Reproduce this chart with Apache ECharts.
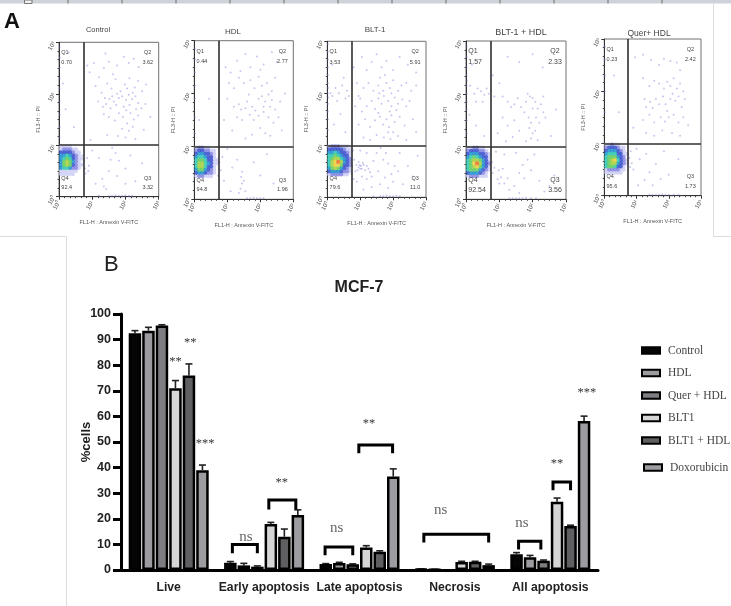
<!DOCTYPE html>
<html><head><meta charset="utf-8">
<style>html,body{margin:0;padding:0;background:#fff}#c{width:731px;height:606px;filter:blur(0.45px)}</style>
<script src="https://cdn.jsdelivr.net/npm/echarts@6/dist/echarts.min.js"></script>
</head><body><div id="c"></div>
<script>
// ---------- Panel B data ----------
const categories = ['Live','Early apoptosis','Late apoptosis','Necrosis','All apoptosis'];
const groupNames = ['Control','HDL','Quer + HDL','BLT1','BLT1 + HDL','Doxorubicin'];
const groupColors = ['#050505','#9c9ca0','#7e7e82','#d6d6d6','#5f5f62','#9d9da1'];
const controlValues = [92.5,2.8,2.3,0.3,6.2];
const controlErrors = [1,0.5,0.2,0.1,0.6];
const hdlValues = [93.5,1.8,2.7,0.2,5];
const hdlErrors = [1.3,0.8,0.3,0.1,0.7];
const querValues = [95.5,1.3,2.2,null,3.6];
const querErrors = [0.3,0.3,0.2,null,0.3];
const bltValues = [71,18,8.8,3.1,26.7];
const bltErrors = [3,0.6,0.7,0.3,1.4];
const bltHdlValues = [76,13,7.1,3.2,17.2];
const bltHdlErrors = [4.5,3,0.4,0.2,0.3];
const doxValues = [39,21.5,36.5,1.9,58.2];
const doxErrors = [2,2,3,0.4,1.9];
const yTicks = {min:0,max:100,interval:10};
// [category, from bar, to bar, top value, bottom value]
const brackets = [
 [1,0.15,2,10,6.5],[1,2.85,4.85,27.3,23.6],
 [2,-0.05,2,9,5.8],[2,2.45,4.95,48.8,45.6],
 [3,0.2,5,14,10.7],
 [4,0.15,1.8,11.2,8],[4,2.7,4,34.4,31.2]];
// [category, bar position, value, text]
const marks = [
 [0,3,82,'**'],[0,4.1,89.4,'**'],[0,5.2,50,'***'],
 [1,1.15,13,'ns'],[1,3.8,35,'**'],
 [2,0.8,16.4,'ns'],[2,3.2,58,'**'],
 [3,1.44,23.4,'ns'],
 [4,0.4,18.3,'ns'],[4,3,42.3,'**'],[4,5.2,70,'***']];

// ---------- Panel A data ----------
const panelTitles = ['Control','HDL','BLT-1','BLT-1 + HDL','Quer+ HDL'];
const q1Values = ['0.70','0.44','3.53','1.57','0.23'];
const q2Values = ['3.62','2.77','5.91','2.33','2.42'];
const q3Values = ['3.32','1.96','11.0','3.56','1.73'];
const q4Values = ['92.4','94.8','79.6','92.54','95.6'];
const gateX = [0.73,0.74,0.73,0.74,0.735];
const gateY = [1,1,1,1,1];
const decadeLabels = ['10\u2070','10\u00b9','10\u00b2','10\u00b3'];
const coreX = [0.06,0.15,0.24,0.33,0.42,0.51,0.60,0.69];
const coreY = [0.98,0.92,0.86,0.80,0.74,0.68,0.62,0.56,0.50,0.44];
const densityColors = [null,'#cfcff4','#8686e2','#3a50cc','#2090d0','#30c8b4','#60cc60','#a4d040','#e8d040','#f07030'];
const coreControl = [[1,1,1,1,0,0,0,0],[1,2,2,2,1,1,0,0],[3,3,3,3,2,1,1,0],[4,4,5,4,3,2,1,0],[4,5,6,5,3,2,1,1],[4,6,7,6,4,2,1,0],[4,6,7,6,3,2,1,1],[4,5,5,4,2,2,1,0],[1,1,1,1,1,1,0,0],[1,1,1,1,1,0,0,0]];
const coreHdl = [[1,2,2,1,1,0,0,0],[2,3,3,2,2,1,1,0],[3,4,4,3,3,2,1,0],[4,5,5,4,3,3,1,0],[5,6,6,5,3,3,1,1],[5,7,7,5,4,3,1,1],[5,7,7,5,3,3,1,0],[4,6,6,4,3,2,1,0],[3,4,4,3,2,2,1,0],[1,2,2,1,1,1,0,0]];
const coreBlt = [[1,2,2,2,1,1,1,0],[3,3,3,3,3,2,1,1],[4,4,5,4,3,3,2,1],[5,5,6,5,4,3,3,1],[5,6,7,7,5,4,3,2],[5,7,8,9,7,4,3,2],[5,7,8,8,6,3,3,2],[4,6,7,6,4,3,2,1],[3,4,4,4,3,2,2,1],[1,2,2,2,2,1,1,0]];
const coreBltHdl = [[1,1,2,2,1,1,0,0],[2,3,3,3,2,2,1,0],[3,4,4,4,3,3,2,1],[4,5,6,5,4,3,3,1],[5,6,7,7,6,4,3,1],[5,6,8,9,7,4,3,2],[5,6,7,8,6,4,3,1],[5,6,6,6,4,3,2,1],[3,4,4,4,3,2,1,0],[1,2,2,2,1,1,1,0]];
const coreQuer = [[1,1,2,1,1,0,0,0],[2,3,3,3,2,1,1,0],[3,4,4,4,3,2,1,0],[4,5,5,5,3,3,1,1],[5,6,6,6,4,3,2,0],[5,6,7,8,5,3,2,1],[5,6,7,7,4,3,2,1],[5,6,6,5,3,3,1,0],[1,2,2,2,2,1,1,0],[1,1,1,1,1,1,0,0]];
const controlEvents = [[0.85,2.55],[0.92,2.42],[1.05,2.6],[1.2,2.32],[1.35,2.5],[1.5,2.62],[1.62,2.38],[1.75,2.55],[1.95,2.72],[2.1,2.6],[2.25,2.68],[2.4,2.52],[1.4,2.78],[1.1,2.15],[1.28,2.02],[1.45,2.2],[1.58,2.1],[1.7,2.28],[1.85,2.05],[1.98,2.18],[2.12,2.3],[2.28,2.12],[2.38,2.25],[2.5,2.05],[2.62,2.18],[1.18,1.85],[1.32,1.75],[1.42,1.8],[1.55,1.72],[1.65,1.85],[1.72,1.78],[1.8,1.92],[1.9,1.95],[2.02,1.88],[2.1,1.98],[2.2,1.9],[2.3,1.95],[2.38,1.82],[2.48,1.72],[2.6,1.8],[1.35,1.6],[1.5,1.55],[1.68,1.48],[1.8,1.62],[1.92,1.55],[2.02,1.68],[2.15,1.62],[2.25,1.5],[2.38,1.58],[2.05,1.42],[1.9,1.32],[2.1,1.28],[2.22,1.36],[2.0,1.15],[1.78,1.18],[2.3,1.12],[1.45,1.2],[0.95,1.1],[2.55,1.3],[2.75,1.55],[1.6,1.95],[1.75,2.0],[2.05,2.1],[2.22,2.02],[1.52,1.9],[1.38,1.92],[2.32,1.7],[1.95,1.75],[2.12,1.78],
 [0.3,2.8],[0.12,2.2],[0.2,1.7],[0.45,1.35],[0.02,2.9],[0.02,2.7],[0.02,2.5],[0.02,2.3],[0.02,2.1],[0.02,1.85],[0.02,1.6],[0.02,1.35],[0.02,1.15],
 [0.85,0.75],[0.9,0.6],[0.8,0.45],[0.78,0.55],[0.88,0.5],[1.0,0.9],[1.2,0.75],[1.3,0.35],[1.35,0.2],[1.42,0.15],[1.5,0.5],[1.6,0.95],[1.7,0.85],[1.8,0.7],[2,0.55],[2.15,0.8],[2.3,0.3],[2.5,0.65],[2.0,0.25],[1.1,0.25],[1.55,0.72],[1.75,0.4],[0.72,0.62],[0.7,0.8],[0.75,0.7],
 [1.2,0.02],[1.5,0.02],[1.6,0.02],[1.7,0.03],[1.8,0.02],[1.9,0.02],[2,0.03],[2.1,0.02],[2.2,0.02]];
const hdlEvents = [[0.95,2.5],[1.1,2.4],[1.3,2.62],[1.55,2.75],[1.7,2.5],[1.9,2.7],[2.1,2.55],[2.35,2.78],[2.5,2.6],[1.05,2.2],[1.2,2.1],[1.35,2.3],[1.5,2.2],[1.7,2.25],[1.82,2.1],[1.95,2.32],[2.05,2.15],[2.2,2.2],[2.35,2.05],[2.45,2.3],[1.0,1.9],[1.2,1.75],[1.35,1.8],[1.42,1.7],[1.55,1.72],[1.6,1.85],[1.75,1.75],[1.85,1.68],[1.95,1.9],[2.05,1.95],[2.15,1.85],[2.25,1.98],[2.35,1.88],[2.3,1.75],[2.45,1.7],[2.6,1.85],[1.3,1.55],[1.45,1.5],[1.68,1.6],[1.8,1.5],[1.95,1.58],[2.1,1.65],[2.25,1.55],[2.4,1.45],[2.55,1.55],[2.0,1.35],[2.15,1.25],[1.75,1.22],[1.55,1.15],[2.3,1.2],[1.15,1.3],[0.9,1.5],[2.65,1.3],[2.75,2.0],[1.4,2.42],[2.0,2.45],[2.1,1.75],[1.65,1.98],
 [0.3,2.6],[0.45,1.9],[0.15,1.5],[0.02,2.85],[0.02,2.65],[0.02,2.4],[0.02,2.15],[0.02,1.9],[0.02,1.55],[0.02,1.25],
 [0.85,0.8],[0.8,0.55],[0.9,0.35],[1.0,0.95],[1.15,0.6],[1.3,0.75],[1.42,0.42],[1.45,0.3],[1.4,0.2],[1.35,0.12],[1.5,0.35],[1.55,0.15],[1.45,0.52],[1.8,0.7],[2.0,0.45],[2.2,0.85],[2.4,0.3],[1.1,0.15],[0.76,0.7],[0.72,0.45],
 [1.6,0.02],[1.7,0.02],[1.8,0.03],[1.9,0.02],[2,0.02],[2.1,0.02]];
const bltEvents = [[0.8,2.5],[0.9,2.2],[0.95,1.95],[1.05,2.7],[1.2,2.45],[1.35,2.6],[1.5,2.75],[1.65,2.5],[1.8,2.62],[2,2.45],[2.2,2.7],[2.45,2.55],[2.7,2.4],[0.85,1.75],[1,1.9],[1.1,2.1],[1.25,2.2],[1.4,2.05],[1.55,2.15],[1.6,2.3],[1.7,2.05],[1.8,2.2],[1.9,2.1],[2,2.25],[2.15,2.05],[2.25,2.15],[2.4,2.2],[2.55,2.05],[2.7,2.15],[1.05,1.65],[1.2,1.75],[1.35,1.85],[1.45,1.7],[1.55,1.9],[1.65,1.8],[1.72,1.95],[1.85,1.85],[1.95,1.75],[2.05,1.92],[2.15,1.8],[2.28,1.88],[2.4,1.75],[2.5,1.85],[0.95,1.4],[1.15,1.5],[1.3,1.35],[1.45,1.48],[1.6,1.55],[1.7,1.4],[1.8,1.5],[1.88,1.35],[1.95,1.58],[2.05,1.45],[2.2,1.55],[2.35,1.38],[2.6,1.5],[1.1,1.15],[1.3,1.1],[1.5,1.2],[1.72,1.15],[1.85,1.25],[1.92,1.12],[2,1.25],[2.15,1.18],[2.4,1.1],[2.7,1.25],[1.58,2.0],[1.75,2.35],[1.95,2.0],[2.1,1.68],[1.55,1.62],[1.9,1.65],
 [0.15,2.55],[0.25,2.1],[0.35,2.0],[0.45,2.15],[0.55,1.9],[0.6,2.05],[0.3,1.85],[0.15,1.95],[0.5,2.3],[0.4,1.6],[0.2,1.4],[0.55,1.25],[0.1,2.0],[0.65,1.95],
 [0.02,2.95],[0.02,2.8],[0.02,2.65],[0.02,2.5],[0.02,2.35],[0.02,2.2],[0.03,2.1],[0.02,2.0],[0.03,1.92],[0.02,1.8],[0.02,1.65],[0.02,1.5],[0.02,1.3],
 [0.78,0.9],[0.82,0.72],[0.88,0.62],[0.95,0.68],[1.02,0.6],[1.0,0.55],[0.92,0.52],[0.85,0.5],[0.95,0.58],[1.05,0.55],[1.1,0.62],[1.15,0.52],[1.2,0.6],[1.25,0.55],[1.3,0.48],[0.8,0.35],[0.9,0.3],[1.05,0.4],[1.2,0.35],[1.35,0.4],[1.4,0.7],[1.5,0.85],[1.62,0.95],[1.7,0.72],[1.78,0.85],[1.85,0.65],[1.95,0.45],[2.05,0.6],[1.55,0.5],[1.6,0.25],[1.75,0.38],[1.85,0.18],[2.0,0.3],[2.15,0.5],[2.3,0.25],[2.45,0.6],[2.6,0.4],[2.75,0.8],[1.0,0.9],[1.2,0.85],[2.2,0.85],[1.35,0.2],[1.1,0.15],[0.98,0.62],[1.08,0.66],[0.76,0.6],[0.74,0.45],
 [1.4,0.02],[1.6,0.02],[1.7,0.02],[1.8,0.03],[1.9,0.02],[2,0.02],[2.1,0.03],[2.2,0.02]];
const bltHdlEvents = [[0.8,2.35],[1,2.2],[0.85,1.95],[1.25,2.7],[1.6,2.6],[2,2.75],[2.3,2.5],[1.1,1.95],[1.25,1.85],[1.35,1.75],[1.45,1.8],[1.55,1.92],[1.75,1.65],[1.8,1.85],[1.85,2.0],[1.92,1.95],[2.0,1.92],[2.08,1.85],[2.15,1.72],[2.25,1.8],[2.32,1.65],[2.38,1.55],[2.0,1.72],[1.88,1.55],[1.95,1.45],[2.1,1.55],[2.2,1.45],[1.9,1.35],[2.0,1.25],[1.95,1.15],[2.08,1.3],[2.15,1.12],[1.8,1.1],[1.1,1.55],[1.25,1.4],[1.45,1.5],[1.6,1.3],[1.4,1.18],[1.2,1.1],[0.95,1.25],[2.55,1.2],[2.7,1.7],[1.65,1.75],[2.32,1.95],
 [0.12,2.15],[0.25,2.0],[0.35,2.1],[0.45,2.05],[0.55,1.98],[0.62,2.1],[0.3,1.85],[0.5,1.85],[0.68,2.0],[0.1,1.6],[0.3,1.4],[0.55,1.2],[0.75,2.05],[0.18,2.55],
 [0.02,2.9],[0.02,2.7],[0.02,2.5],[0.02,2.35],[0.03,2.25],[0.02,2.15],[0.02,2.0],[0.02,1.85],[0.02,1.7],[0.02,1.5],[0.02,1.25],
 [0.78,0.7],[0.85,0.6],[0.8,0.5],[0.98,0.55],[1.1,0.58],[1.05,0.42],[0.95,0.38],[1.0,0.3],[1.15,0.3],[1.25,0.4],[1.3,0.18],[1.45,0.25],[1.6,0.5],[1.7,0.65],[1.75,0.4],[1.85,0.75],[1.95,0.55],[2.05,0.85],[2.2,0.35],[2.35,0.15],[2.5,0.25],[1.15,0.85],[0.9,0.9],[1.5,0.88],[2.65,0.45],[1.6,0.12],
 [1.3,0.02],[1.4,0.02],[1.5,0.02],[1.6,0.02],[1.7,0.02],[1.8,0.03],[1.95,0.02],[2.1,0.02]];
const querEvents = [[0.95,2.65],[1.2,2.7],[1.45,2.6],[1.7,2.5],[1.85,2.62],[2.05,2.58],[2.25,2.55],[2.35,2.4],[1.2,2.25],[1.4,2.1],[1.55,2.2],[1.7,2.15],[1.85,2.05],[1.95,2.18],[2.05,2.1],[2.15,2.25],[2.25,2.05],[2.35,2.15],[2.45,2.0],[1.25,1.85],[1.3,1.7],[1.42,1.8],[1.5,1.68],[1.6,1.85],[1.7,1.75],[1.82,1.9],[1.9,1.75],[1.95,1.62],[2.05,1.85],[2.12,1.95],[2.2,1.82],[2.3,1.9],[2.4,1.7],[2.5,1.85],[1.2,1.45],[1.4,1.55],[1.55,1.4],[1.75,1.5],[1.88,1.42],[2.0,1.5],[2.15,1.55],[2.3,1.4],[2.45,1.5],[1.3,1.2],[1.55,1.15],[1.8,1.25],[2.1,1.2],[2.35,1.15],[2.6,1.35],[0.9,1.3],
 [0.3,2.3],[0.45,1.6],[0.02,2.85],[0.02,2.6],[0.02,2.3],[0.02,2.0],[0.02,1.6],
 [0.78,0.72],[0.8,0.55],[0.85,0.62],[0.9,0.5],[0.82,0.85],[1.0,0.9],[1.1,0.7],[1.3,0.8],[1.4,0.45],[1.25,0.3],[1.6,0.6],[1.85,0.85],[2.0,0.4],[2.3,0.7],[1.05,0.2],[1.5,0.2],[1.75,0.32],
 [1.4,0.02],[1.5,0.02],[1.6,0.02],[1.7,0.02],[1.8,0.03],[1.9,0.02],[2,0.02],[2.15,0.02],[2.3,0.02]];
const panelEvents = [controlEvents,hdlEvents,bltEvents,bltHdlEvents,querEvents];
const panelCores = [coreControl,coreHdl,coreBlt,coreBltHdl,coreQuer];

// ---------- Layout ----------
const panelBoxes = [[59,42.3,158.7,196.7],[194.3,40.7,293.3,199.3],[327.3,41.3,426,197.3],[466,41,566,199.3],[604.3,39,701,195.7]];
const panelTitlePos = [[98,31],[233,33],[375,31],[521,34],[649,34]];
const panelTitleSize = [7.5,8,8,9,8.5];
const panelLabelSize = [5.5,5.5,5.5,7,5.5];
const FONT = '"Liberation Sans",Arial,sans-serif';
const SERIF = '"Liberation Serif","Times New Roman",serif';
const barW = 12.5, barPitch = 13.5;

const grids=[],xAxes=[],yAxes=[],series=[];
panelBoxes.forEach((b,i)=>{
  grids.push({left:b[0],top:b[1],width:b[2]-b[0],height:b[3]-b[1],show:true,borderColor:'#707070',borderWidth:1,backgroundColor:'#fff'});
  const common={min:0,max:3,interval:1,splitLine:{show:false},
    axisLine:{onZero:false,lineStyle:{color:'#333',width:1}},
    axisTick:{length:3,lineStyle:{color:'#333'}},minorTick:{show:true,splitNumber:6,length:1.5,lineStyle:{color:'#444'}},
    nameLocation:'middle',nameTextStyle:{fontSize:5.5,color:'#555',fontFamily:FONT}};
  xAxes.push(Object.assign({},common,{gridIndex:i,type:'value',name:'FL1-H : Annexin V-FITC',nameGap:23,
    axisLabel:{rotate:60,fontSize:6,color:'#444',margin:5,fontFamily:FONT,formatter:(v)=>decadeLabels[v]}}));
  yAxes.push(Object.assign({},common,{gridIndex:i,type:'value',name:'FL3-H :: PI',nameGap:18,
    axisLabel:{rotate:60,fontSize:6,color:'#444',margin:5,fontFamily:FONT,formatter:(v)=>decadeLabels[v]}}));
  series.push({type:'scatter',xAxisIndex:i,yAxisIndex:i,symbolSize:2,silent:true,
    itemStyle:{color:'#7676dc',opacity:0.42},data:panelEvents[i],
    markLine:{silent:true,symbol:'none',animation:false,label:{show:false},lineStyle:{color:'#2f2f2f',width:1.6,type:'solid'},
      data:[{xAxis:gateX[i]},{yAxis:gateY[i]}]}});
  const cells=[];
  panelCores[i].forEach((row,r)=>row.forEach((d,c)=>{ if(d) cells.push([coreX[c],coreY[r],d]); }));
  cells.sort((a,b)=>a[2]-b[2]);
  series.push({type:'scatter',xAxisIndex:i,yAxisIndex:i,symbolSize:4.2,silent:true,data:cells,
    itemStyle:{opacity:0.85,color:p=>densityColors[p.value[2]]}});
  const labels=[[0.07,2.8,'Q1','left'],[0.07,2.6,q1Values[i],'left'],[2.67,2.8,'Q2','center'],[2.67,2.6,q2Values[i],'center'],[2.67,0.36,'Q3','center'],[2.67,0.18,q3Values[i],'center'],[0.07,0.36,'Q4','left'],[0.07,0.18,q4Values[i],'left']];
  series.push({type:'custom',xAxisIndex:i,yAxisIndex:i,silent:true,data:labels.map(l=>l.slice(0,2)),z:6,
    renderItem:(p,api)=>{const c=api.coord([api.value(0),api.value(1)]),l=labels[p.dataIndex];
      return {type:'text',style:{text:l[2],x:c[0],y:c[1],align:l[3],verticalAlign:'middle',fill:'#444',font:panelLabelSize[i]+'px '+FONT}};}});
});
// Panel B grid
grids.push({left:121,top:314,width:477,height:256,containLabel:false});
xAxes.push({gridIndex:5,type:'category',data:categories,
  axisLine:{lineStyle:{color:'#000',width:3}},axisTick:{alignWithLabel:true,length:7,lineStyle:{color:'#000',width:3}},
  axisLabel:{interval:0,color:'#222',fontWeight:'bold',fontSize:12.2,fontFamily:FONT,margin:12}});
yAxes.push({gridIndex:5,type:'value',min:yTicks.min,max:yTicks.max,interval:yTicks.interval,name:'%cells',nameLocation:'middle',nameGap:28,nameMoveOverlap:false,
  nameTextStyle:{color:'#222',fontWeight:'bold',fontSize:13,fontFamily:FONT},
  splitLine:{show:false},axisLine:{show:true,lineStyle:{color:'#000',width:3}},axisTick:{show:true,length:8,lineStyle:{color:'#000',width:3}},
  axisLabel:{color:'#222',fontWeight:'bold',fontSize:12.5,fontFamily:FONT,margin:10}});
const valueSets=[controlValues,hdlValues,querValues,bltValues,bltHdlValues,doxValues];
const errorSets=[controlErrors,hdlErrors,querErrors,bltErrors,bltHdlErrors,doxErrors];
groupNames.forEach((n,k)=>series.push({type:'bar',name:n,xAxisIndex:5,yAxisIndex:5,barWidth:barW,barGap:'8%',data:valueSets[k],silent:true,
  itemStyle:{color:groupColors[k],borderColor:'#000',borderWidth:2.5}}));
const errorData=[];
errorSets.forEach((es,k)=>es.forEach((e,c)=>{ if(e!=null) errorData.push([c,k,valueSets[k][c],e]); }));
series.push({type:'custom',xAxisIndex:5,yAxisIndex:5,silent:true,z:1,data:errorData,
  renderItem:(p,api)=>{
    const c=api.value(0),k=api.value(1),v=api.value(2),e=api.value(3);
    const dx=(k-2.5)*barPitch, a=api.coord([c,v]), b=api.coord([c,v+e]), x=a[0]+dx;
    return {type:'group',children:[
      {type:'line',shape:{x1:x,y1:a[1],x2:x,y2:b[1]},style:{stroke:'#222',lineWidth:1.6}},
      {type:'line',shape:{x1:x-3.5,y1:b[1],x2:x+3.5,y2:b[1]},style:{stroke:'#222',lineWidth:1.6}}]};
  }});
series.push({type:'custom',xAxisIndex:5,yAxisIndex:5,silent:true,z:5,data:brackets,
  renderItem:(p,api)=>{
    const c=api.value(0),x1=api.coord([c,0])[0]+(api.value(1)-2.5)*barPitch,x2=api.coord([c,0])[0]+(api.value(2)-2.5)*barPitch;
    const t=api.coord([c,api.value(3)])[1],b=api.coord([c,api.value(4)])[1];
    return {type:'polyline',shape:{points:[[x1,b],[x1,t],[x2,t],[x2,b]]},style:{stroke:'#000',lineWidth:3,fill:null}};
  }});
series.push({type:'custom',xAxisIndex:5,yAxisIndex:5,silent:true,z:5,data:marks.map(m=>m.slice(0,3)),
  renderItem:(p,api)=>{
    const c=api.coord([api.value(0),api.value(2)]),m=marks[p.dataIndex],x=c[0]+(api.value(1)-2.5)*barPitch,ns=m[3]==='ns';
    return {type:'text',style:{text:m[3],x:x,y:ns?c[1]:c[1]+2,align:'center',verticalAlign:'middle',fill:ns?'#666':'#333',font:(ns?'15px ':'12.5px ')+SERIF}};
  }});

const titles=[
 {text:'A',left:4,top:11,padding:0,textStyle:{fontFamily:FONT,fontWeight:'bold',fontSize:22,color:'#111'}},
 {text:'B',left:104,top:254,padding:0,textStyle:{fontFamily:FONT,fontWeight:'normal',fontSize:22,color:'#222'}},
 {text:'MCF-7',left:359,top:280,padding:0,textAlign:'center',textStyle:{fontFamily:FONT,fontWeight:'bold',fontSize:16,color:'#222'}}];
panelTitles.forEach((t,i)=>titles.push({text:t,left:panelTitlePos[i][0],top:panelTitlePos[i][1]-panelTitleSize[i]/2-1,padding:0,textAlign:'center',
  textStyle:{fontFamily:FONT,fontWeight:'normal',fontSize:panelTitleSize[i],color:'#444'}}));

const legendBase={orient:'vertical',icon:'rect',itemWidth:18,itemHeight:6.5,padding:0,selectedMode:false,
  textStyle:{fontFamily:SERIF,fontSize:11.5,color:'#444',padding:[0,0,0,3]}};
const rulerTicks=[68,122,176,230,284,338,392,446,500,554,608,662];
const chromeColor='#dcdcdc';
const graphics=[
 {type:'rect',shape:{x:0,y:0,width:731,height:3.5},style:{fill:'#cdd3d8'},silent:true},
 {type:'rect',shape:{x:24.5,y:0,width:7.5,height:3.5},style:{fill:'#eef0f2',stroke:'#777',lineWidth:1},silent:true},
 ...rulerTicks.map(x=>({type:'line',shape:{x1:x,y1:0,x2:x,y2:3.5},style:{stroke:'#6a6e72',lineWidth:1},silent:true})),
 {type:'polyline',shape:{points:[[0,236.5],[66.5,236.5],[66.5,606]]},style:{stroke:chromeColor,lineWidth:1,fill:null},silent:true},
 {type:'polyline',shape:{points:[[713.5,3],[713.5,236.5],[731,236.5]]},style:{stroke:chromeColor,lineWidth:1,fill:null},silent:true}];

const chart=echarts.init(document.getElementById('c'),null,{width:731,height:606});
chart.setOption({animation:false,backgroundColor:'#fff',title:titles,grid:grids,xAxis:xAxes,yAxis:yAxes,series,graphic:graphics,
 legend:[Object.assign({},legendBase,{left:641,top:344.5,data:groupNames.slice(0,5),itemGap:10.5}),
         Object.assign({},legendBase,{left:643,top:461.5,data:groupNames.slice(5)})]});
</script></body></html>
